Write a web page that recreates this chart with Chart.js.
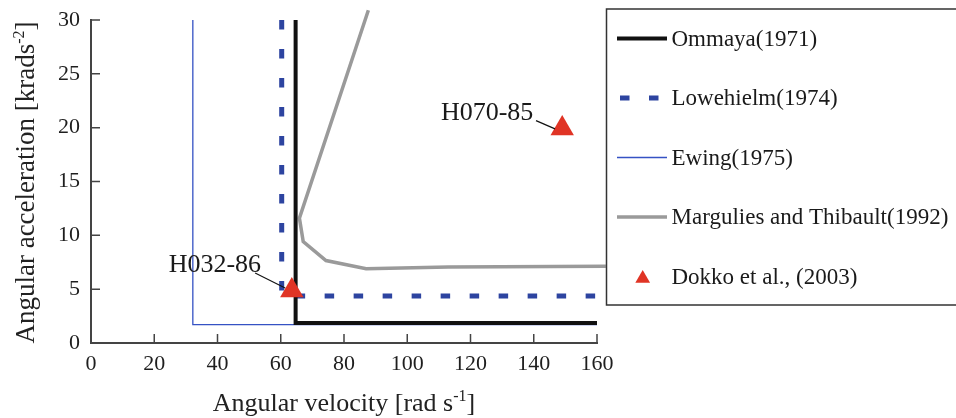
<!DOCTYPE html>
<html>
<head>
<meta charset="utf-8">
<script src="https://cdn.jsdelivr.net/npm/chart.js@4.4.0/dist/chart.umd.min.js"></script>
<style>
  html, body { margin: 0; padding: 0; background: #fff; }
  #wrap { width: 956px; height: 418px; position: relative; }
</style>
</head>
<body>
<div id="wrap"><canvas id="Chart" width="956" height="418"></canvas></div>
<script>
// injury threshold curves, angular velocity [rad/s] vs angular acceleration [krad/s^2]
const ommayaX = [64.7, 64.7, 160];
const ommayaY = [30, 1.86, 1.86];

const lowehielmX = [60.3, 60.3, 160];
const lowehielmY = [30, 4.36, 4.36];

const ewingX = [32.2, 32.2, 160];
const ewingY = [30, 1.7, 1.7];

const marguliesX = [87.7, 65.9, 67.1, 74.3, 87.0, 113.0, 162.8];
const marguliesY = [30.9, 11.6, 9.43, 7.66, 6.89, 7.05, 7.14];

const dokkoX = [63.5, 149.0];
const dokkoY = [4.87, 19.93];
const dokkoLabels = ['H032-86', 'H070-85'];

const xTicks = [0, 20, 40, 60, 80, 100, 120, 140, 160];
const yTicks = [0, 5, 10, 15, 20, 25, 30];

const SERIF = '"Liberation Serif", "Times New Roman", serif';
const AXIS_COLOR = '#444';

const toPoints = (xs, ys) => xs.map((x, i) => ({ x: x, y: ys[i] }));

// inward tick marks
const innerTicks = {
    id: 'innerTicks',
    afterDraw(chart) {
        const { ctx, chartArea, scales } = chart;
        ctx.save();
        ctx.strokeStyle = AXIS_COLOR;
        ctx.lineWidth = 1.5;
        ctx.beginPath();
        xTicks.forEach(v => {
            const px = scales.x.getPixelForValue(v);
            ctx.moveTo(px, chartArea.bottom);
            ctx.lineTo(px, chartArea.bottom - 9);
        });
        yTicks.forEach(v => {
            const py = scales.y.getPixelForValue(v);
            ctx.moveTo(chartArea.left, py);
            ctx.lineTo(chartArea.left + 9, py);
        });
        ctx.stroke();
        ctx.restore();
    }
};

// axis titles with superscripts
const drawSupTitle = (ctx, base, sup, tail, size) => {
    ctx.font = size + 'px ' + SERIF;
    const wBase = ctx.measureText(base).width;
    const wTail = ctx.measureText(tail).width;
    ctx.font = Math.round(size * 0.6) + 'px ' + SERIF;
    const wSup = ctx.measureText(sup).width;
    const total = wBase + wSup + wTail;
    let x = -total / 2;
    ctx.textAlign = 'left';
    ctx.textBaseline = 'alphabetic';
    ctx.font = size + 'px ' + SERIF;
    ctx.fillText(base, x, 0);
    x += wBase;
    ctx.font = Math.round(size * 0.6) + 'px ' + SERIF;
    ctx.fillText(sup, x, -size * 0.38);
    x += wSup;
    ctx.font = size + 'px ' + SERIF;
    ctx.fillText(tail, x, 0);
};

const axisTitles = {
    id: 'axisTitles',
    afterDraw(chart) {
        const { ctx, chartArea } = chart;
        ctx.save();
        ctx.fillStyle = '#222';
        ctx.translate((chartArea.left + chartArea.right) / 2, 411);
        drawSupTitle(ctx, 'Angular velocity [rad s', '-1', ']', 26);
        ctx.restore();

        ctx.save();
        ctx.fillStyle = '#222';
        ctx.translate(34, 182.5);
        ctx.rotate(-Math.PI / 2);
        drawSupTitle(ctx, 'Angular acceleration [krads', '-2', ']', 27);
        ctx.restore();
    }
};

// point labels with leader lines
const dokkoNotes = {
    id: 'dokkoNotes',
    afterDatasetsDraw(chart) {
        const { ctx } = chart;
        const meta = chart.getDatasetMeta(4);
        const offs = [
            { tx: -30.7, ty: -18.8, l: [-36.7, -17.5, -6.7, -2.5] },
            { tx: -28.9, ty: -8.5, l: [-26.2, -7.8, -7.2, 0.5] }
        ];
        ctx.save();
        meta.data.forEach((pt, i) => {
            const o = offs[i];
            ctx.strokeStyle = '#111';
            ctx.lineWidth = 1.2;
            ctx.beginPath();
            ctx.moveTo(pt.x + o.l[0], pt.y + o.l[1]);
            ctx.lineTo(pt.x + o.l[2], pt.y + o.l[3]);
            ctx.stroke();
            ctx.fillStyle = '#1a1a1a';
            ctx.font = '26px ' + SERIF;
            ctx.textAlign = 'right';
            ctx.textBaseline = 'alphabetic';
            ctx.fillText(dokkoLabels[i], pt.x + o.tx, pt.y + o.ty);
        });
        ctx.restore();
    }
};

// boxed legend on the right
const boxLegend = {
    id: 'boxLegend',
    afterDraw(chart) {
        const { ctx } = chart;
        const left = 606.5, top = 9, bottom = 305;
        ctx.save();
        ctx.fillStyle = '#fff';
        ctx.fillRect(left, top, 960 - left, bottom - top);
        ctx.strokeStyle = '#333';
        ctx.lineWidth = 1.5;
        ctx.strokeRect(left, top, 960 - left, bottom - top);
        chart.data.datasets.forEach((ds, i) => {
            const cy = 38.5 + i * 59.5;
            if (ds.pointStyle === 'triangle') {
                ctx.fillStyle = ds.backgroundColor;
                const r = 8.5, cx = 642.7, py = cy + 2;
                ctx.beginPath();
                ctx.moveTo(cx, py - r);
                ctx.lineTo(cx + r * 0.866, py + r / 2);
                ctx.lineTo(cx - r * 0.866, py + r / 2);
                ctx.closePath();
                ctx.fill();
            } else {
                ctx.strokeStyle = ds.borderColor;
                ctx.lineWidth = ds.borderWidth;
                ctx.setLineDash(ds.borderDash || []);
                ctx.beginPath();
                ctx.moveTo(ds.borderDash ? 620 : 617, cy);
                ctx.lineTo(667, cy);
                ctx.stroke();
                ctx.setLineDash([]);
            }
            ctx.fillStyle = '#1a1a1a';
            ctx.font = '23px ' + SERIF;
            ctx.textAlign = 'left';
            ctx.textBaseline = 'middle';
            ctx.fillText(ds.label, 671.5, cy + 1);
        });
        ctx.restore();
    }
};

const data = {
    datasets: [
        {
            label: 'Ommaya(1971)',
            data: toPoints(ommayaX, ommayaY),
            borderColor: '#111111',
            borderWidth: 4,
            pointRadius: 0,
            order: 2
        },
        {
            label: 'Lowehielm(1974)',
            data: toPoints(lowehielmX, lowehielmY),
            borderColor: '#2d44a0',
            borderWidth: 5,
            borderDash: [9.5, 19.5],
            pointRadius: 0,
            order: 3
        },
        {
            label: 'Ewing(1975)',
            data: toPoints(ewingX, ewingY),
            borderColor: '#3552c4',
            borderWidth: 1.3,
            pointRadius: 0,
            order: 4
        },
        {
            label: 'Margulies and Thibault(1992)',
            data: toPoints(marguliesX, marguliesY),
            borderColor: '#9a9a9a',
            borderWidth: 3.5,
            pointRadius: 0,
            order: 5
        },
        {
            label: 'Dokko et al., (2003)',
            data: toPoints(dokkoX, dokkoY),
            showLine: false,
            pointStyle: 'triangle',
            pointRadius: 13.5,
            backgroundColor: '#e03425',
            borderColor: '#e03425',
            borderWidth: 0,
            order: 1
        }
    ]
};

const config = {
    type: 'line',
    data,
    options: {
        responsive: false,
        animation: false,
        clip: false,
        layout: { padding: { left: 0, top: 20, right: 359, bottom: 0 } },
        elements: { line: { tension: 0, borderCapStyle: 'butt', borderJoinStyle: 'miter' } },
        scales: {
            x: {
                type: 'linear',
                min: 0,
                max: 160,
                afterBuildTicks: (s) => { s.ticks = xTicks.map(v => ({ value: v })); },
                afterFit: (s) => { s.height = 75; s.paddingLeft = 0; s.paddingRight = 0; },
                grid: { display: false, drawTicks: false },
                border: { display: true, color: AXIS_COLOR, width: 2 },
                ticks: {
                    padding: 8,
                    color: '#1e1e1e',
                    font: { family: SERIF, size: 22 }
                }
            },
            y: {
                type: 'linear',
                min: 0,
                max: 30,
                afterBuildTicks: (s) => { s.ticks = yTicks.map(v => ({ value: v })); },
                afterFit: (s) => { s.width = 91; s.paddingTop = 0; s.paddingBottom = 0; },
                grid: { display: false, drawTicks: false },
                border: { display: true, color: AXIS_COLOR, width: 2 },
                ticks: {
                    padding: 11,
                    color: '#1e1e1e',
                    font: { family: SERIF, size: 22 }
                }
            }
        },
        plugins: {
            legend: { display: false },
            tooltip: { enabled: false }
        }
    },
    plugins: [innerTicks, dokkoNotes, boxLegend, axisTitles]
};

const myChart = new Chart(document.getElementById('Chart'), config);
</script>
</body>
</html>
